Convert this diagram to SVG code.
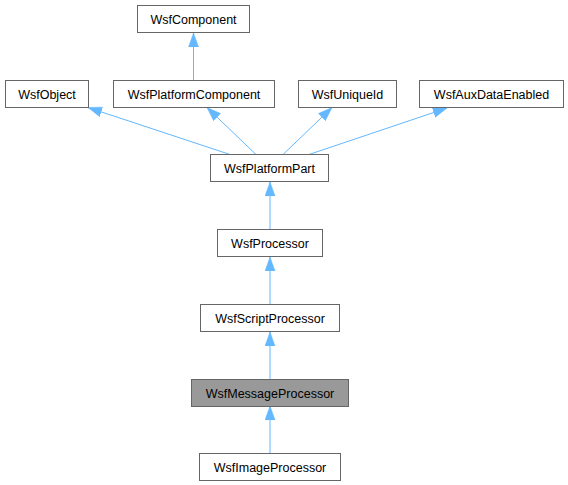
<svg xmlns="http://www.w3.org/2000/svg" width="568" height="485" viewBox="0 0 568 485">
<style>
.node rect{fill:#ffffff;stroke:#666666;stroke-width:1}
.node.hl rect{fill:#999999}
.node text{font-family:"Liberation Sans",Arial,sans-serif;font-size:12.5px;fill:#000000;text-anchor:middle}
.edge{stroke:#63b8ff;stroke-width:1;fill:none;marker-end:url(#arr)}
</style>
<defs>
<marker id="arr" markerUnits="userSpaceOnUse" markerWidth="15" markerHeight="11" refX="14" refY="5.5" orient="auto">
<path d="M0,0.5 L14,5.5 L0,10.5 z" fill="#63b8ff" stroke="#63b8ff" stroke-width="0.5"/>
</marker>
</defs>
<rect width="568" height="485" fill="#ffffff"/>
<g id="edges">
<line class="edge" x1="193.5" y1="80.5" x2="193.5" y2="33"/>
<line class="edge" x1="230" y1="154.5" x2="88" y2="107.5"/>
<line class="edge" x1="256" y1="154.5" x2="207" y2="107.5"/>
<line class="edge" x1="283" y1="154.5" x2="332" y2="107.5"/>
<line class="edge" x1="309" y1="154.5" x2="447" y2="108"/>
<line class="edge" x1="270" y1="229.5" x2="270" y2="182"/>
<line class="edge" x1="270" y1="304.5" x2="270" y2="257"/>
<line class="edge" x1="270" y1="379.5" x2="270" y2="332"/>
<line class="edge" x1="270" y1="453.5" x2="270" y2="406"/>
</g>
<g id="WsfComponent" class="node"><rect x="137.5" y="5.5" width="112" height="27"/><text x="193.5" y="23.5">WsfComponent</text></g>
<g id="WsfObject" class="node"><rect x="5.5" y="80.5" width="83" height="27"/><text x="47" y="98.5">WsfObject</text></g>
<g id="WsfPlatformComponent" class="node"><rect x="113.5" y="80.5" width="161" height="27"/><text x="194" y="98.5">WsfPlatformComponent</text></g>
<g id="WsfUniqueId" class="node"><rect x="298.5" y="80.5" width="98" height="27"/><text x="347.5" y="98.5">WsfUniqueId</text></g>
<g id="WsfAuxDataEnabled" class="node"><rect x="419.5" y="80.5" width="144" height="27"/><text x="491.5" y="98.5">WsfAuxDataEnabled</text></g>
<g id="WsfPlatformPart" class="node"><rect x="210.5" y="154.5" width="118" height="27"/><text x="269.5" y="172.5">WsfPlatformPart</text></g>
<g id="WsfProcessor" class="node"><rect x="217.5" y="229.5" width="105" height="27"/><text x="270" y="247.5">WsfProcessor</text></g>
<g id="WsfScriptProcessor" class="node"><rect x="200.5" y="304.5" width="139" height="27"/><text x="270" y="322.5">WsfScriptProcessor</text></g>
<g id="WsfMessageProcessor" class="node hl"><rect x="191.5" y="379.5" width="157" height="27"/><text x="270" y="397.5">WsfMessageProcessor</text></g>
<g id="WsfImageProcessor" class="node"><rect x="199.5" y="453.5" width="141" height="27"/><text x="270" y="471.5">WsfImageProcessor</text></g>
</svg>
